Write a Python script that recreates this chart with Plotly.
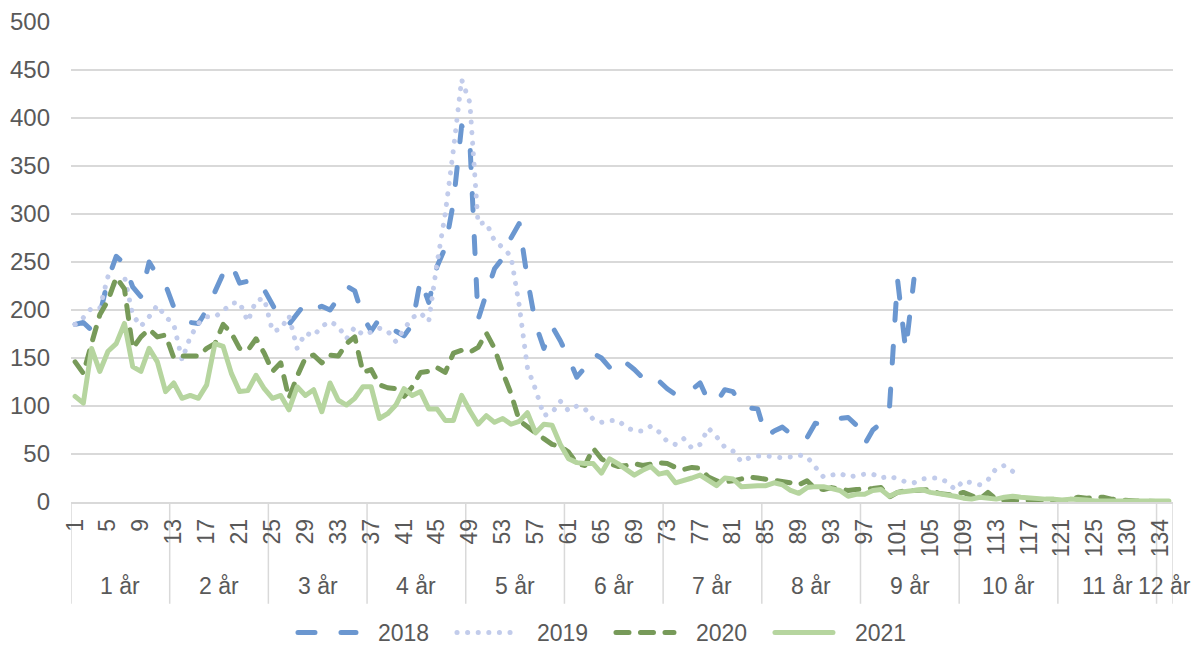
import plotly.graph_objects as go

# ---- data ----
month_labels = [str(m) for m in list(range(1, 129)) + list(range(130, 136))]  # 134 categories
group_names = [f"{k} år" for k in range(1, 13)]
group_sizes = [12] * 11 + [2]

s2018 = [185, 187, 179, 195, 232, 256, 248, 224, 214, 250, 236, 226, 203, 192, 187, 186, 200, 220, 238, 248,
         228, 230, 232, 221, 205, 190, 185, 197, 207, 200, 204, 200, 212, 225, 220, 193, 178, 191, 185, 178,
         173, 185, 232, 208, 245, 265, 312, 392, 375, 190, 217, 243, 254, 275, 290, 232, 185, 160, 183, 168,
         150, 130, 140, 155, 150, 140, 134, 145, 138, 130, 121, 126, 118, 112, 110, 117, 124, 105, 104, 117,
         115, 99, 98, 97, 68, 74, 78, 71, 75, 67, 82, 81, 82, 87, 88, 80, 60, 75, 82, 95,
         232, 158, 232]
s2019 = [185, 192, 202, 202, 235, 223, 235, 195, 183, 193, 205, 193, 185, 148, 172, 186, 193, 193, 199, 207,
         208, 188, 210, 212, 178, 180, 194, 160, 176, 173, 183, 188, 183, 170, 182, 174, 177, 181, 178, 167,
         180, 192, 197, 188, 248, 300, 367, 440, 416, 290, 291, 272, 265, 256, 205, 140, 117, 90, 93, 105,
         95, 100, 97, 86, 83, 85, 85, 78, 74, 74, 79, 73, 63, 60, 66, 56, 60, 77, 68, 57,
         53, 42, 46, 48, 48, 47, 46, 47, 49, 47, 36, 26, 28, 30, 26, 28, 29, 29, 25, 27,
         24, 21, 20, 24, 25, 25, 21, 13, 22, 20, 18, 23, 35, 38, 32]
s2020 = [146, 134, 165, 195, 210, 234, 222, 160, 172, 180, 172, 174, 150, 152, 152, 152, 160, 165, 185, 176,
         160, 158, 170, 155, 136, 145, 108, 131, 150, 153, 145, 153, 152, 165, 172, 135, 138, 122, 119, 118,
         110, 120, 135, 136, 140, 135, 155, 158, 156, 161, 176, 160, 135, 113, 85, 78, 72, 66, 60, 58,
         52, 40, 38, 56, 45, 40, 37, 38, 40, 38, 40, 41, 40, 36, 34, 36, 35, 26, 22, 21,
         22, 24, 26, 25, 24, 23, 22, 20, 18, 22, 14, 13, 15, 14, 12, 13, 13, 14, 15, 5,
         10, 12, 12, 12, 13, 9, 8, 7, 10, 6, 3, 10, 3, 2, 2, 2, 2, 2, 2, 1,
         0, 2, 5, 4, 5, 5, 3, 2, 2, 1, 1, 1, 1, 0]
s2021 = [110, 103, 160, 136, 157, 165, 186, 141, 136, 160, 146, 115, 124, 108, 111, 108, 122, 165, 162, 134,
         115, 116, 132, 118, 108, 111, 96, 120, 111, 117, 94, 124, 106, 101, 108, 120, 120, 87, 92, 101,
         118, 111, 115, 97, 97, 85, 85, 111, 95, 81, 90, 83, 87, 81, 84, 93, 72, 81, 80, 60,
         45, 41, 40, 40, 30, 45, 40, 34, 28, 33, 37, 29, 31, 20, 22, 25, 28, 22, 17, 25,
         24, 16, 17, 17, 17, 20, 18, 12, 9, 15, 16, 16, 14, 12, 6, 8, 8, 12, 13, 6,
         10, 11, 11, 13, 10, 9, 8, 6, 4, 3, 5, 4, 3, 5, 6, 5, 4, 3, 3, 3,
         2, 3, 3, 2, 1, 1, 1, 1, 1, 1, 1, 1, 1, 1]

series_names = ["2018", "2019", "2020", "2021"]
series_values = [s2018, s2019, s2020, s2021]

# ---- styles ----
colors = ["#6B97D0", "#C2CCEB", "#779A59", "#B6D59F"]
dashes = ["17px,26px", "0.1px,10.5px", "13px,11.5px", "solid"]
widths = [5, 5, 5, 5]

FONT = "Liberation Sans, Arial, sans-serif"
TXT = "#595959"
GRID = "#D9D9D9"
FS = 23

n = len(month_labels)
x_idx = list(range(1, n + 1))

fig = go.Figure()
for name, vals, c, d, w in zip(series_names, series_values, colors, dashes, widths):
    fig.add_trace(go.Scatter(
        x=x_idx[:len(vals)], y=vals, name=name, mode="lines",
        line=dict(color=c, dash=d, width=w),
        hoverinfo="skip",
    ))

tickvals = x_idx[::4]
ticktext = [month_labels[i - 1] for i in tickvals]

# group boundaries and labels
bounds = [0.5]
for s in group_sizes:
    bounds.append(bounds[-1] + s)

shapes = []
for b in bounds:
    shapes.append(dict(type="line", xref="x", yref="paper", x0=b, x1=b, y0=0, y1=-0.212,
                       line=dict(color=GRID, width=1.5), layer="below"))
annotations = []
for g, a, b in zip(group_names, bounds[:-1], bounds[1:]):
    annotations.append(dict(x=(a + b) / 2, y=-0.175, xref="x", yref="paper", text=g,
                            showarrow=False, xanchor="center", yanchor="middle",
                            font=dict(family=FONT, size=FS, color=TXT)))

fig.update_layout(
    width=1195, height=647, autosize=False,
    margin=dict(l=71, r=22, t=22, b=145, autoexpand=False),
    paper_bgcolor="white", plot_bgcolor="white",
    font=dict(family=FONT, size=FS, color=TXT),
    showlegend=True,
    legend=dict(orientation="h", x=0.490, xanchor="center", y=-0.272, yanchor="middle",
                itemwidth=75, font=dict(family=FONT, size=FS, color=TXT),
                entrywidth=69, itemclick=False, itemdoubleclick=False),
    shapes=shapes, annotations=annotations,
    xaxis=dict(range=[0.5, n + 0.5], tickmode="array", tickvals=tickvals, ticktext=ticktext,
               tickangle=-90, showgrid=False, zeroline=False, showline=True, automargin=False,
               linecolor=GRID, linewidth=1.5, ticks="", ticklabelstandoff=6,
               tickfont=dict(family=FONT, size=FS, color=TXT)),
    yaxis=dict(range=[0, 500], tickmode="linear", tick0=0, dtick=50, showgrid=True, automargin=False,
               gridcolor=GRID, gridwidth=1.5, zeroline=False, showline=False, ticks="",
               ticklabelstandoff=20, tickfont=dict(family=FONT, size=24, color=TXT)),
)

post = """
document.body.style.margin = '0';
document.body.style.padding = '0';
var gd = document.getElementById('{plot_id}');
function rc(){
  gd.querySelectorAll('path.js-line').forEach(function(p){
    p.style.strokeLinecap = 'round'; p.style.strokeLinejoin = 'round';
  });
  gd.querySelectorAll('g.legendlines path').forEach(function(p){
    p.setAttribute('d', 'M5,0h58');
    p.style.strokeLinecap = 'round'; p.style.strokeLinejoin = 'round';
  });
}
rc();
if (gd.on) { gd.on('plotly_afterplot', rc); }
"""

fig.write_html("out.html", post_script=post, config={"displayModeBar": False})
